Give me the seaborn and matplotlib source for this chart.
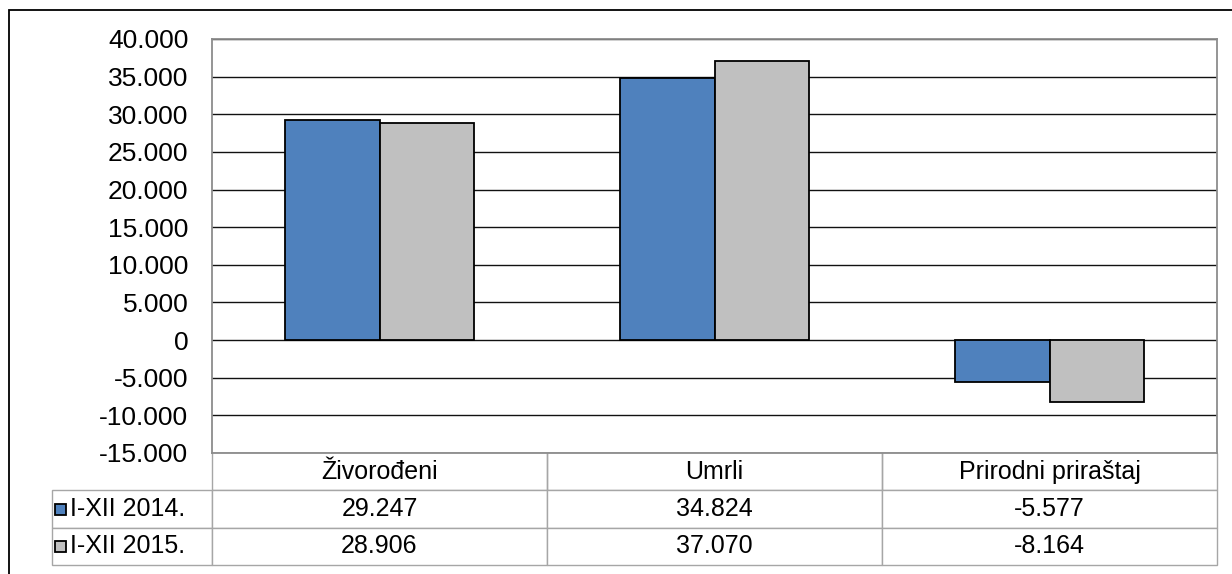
import matplotlib

matplotlib.use("Agg")
import matplotlib.pyplot as plt
from matplotlib.patches import Rectangle
from matplotlib.ticker import FuncFormatter, MultipleLocator
import pandas as pd
import seaborn as sns

# data
kategorije = ["Živorođeni", "Umrli", "Prirodni priraštaj"]
periodi = ["I-XII 2014.", "I-XII 2015."]
vrijednosti_2014 = [29247, 34824, -5577]
vrijednosti_2015 = [28906, 37070, -8164]
boje = ["#4F81BD", "#C0C0C0"]

df = pd.DataFrame({
    "kategorija": kategorije * 2,
    "period": [periodi[0]] * 3 + [periodi[1]] * 3,
    "vrijednost": vrijednosti_2014 + vrijednosti_2015,
})


def fmt_broj(v, pos=None):
    return f"{int(round(v)):,}".replace(",", ".")


sns.set_theme(style="white")
plt.rcParams["font.family"] = ["Liberation Sans", "DejaVu Sans"]

W, H = 1232, 574
fig = plt.figure(figsize=(W / 100, H / 100), dpi=100)
fig.patch.set_facecolor("white")

# plot area in pixels
L, R, T, B = 212, 1217, 39, 453
ax = fig.add_axes([L / W, 1 - B / H, (R - L) / W, (B - T) / H])

sns.barplot(
    data=df, x="kategorija", y="vrijednost", hue="period",
    palette=boje, edgecolor="black", linewidth=1.3, width=0.567,
    saturation=1, legend=False, ax=ax, zorder=3,
)

ax.set_xlim(-0.5, 2.5)
ax.set_ylim(-15000, 40000)
ax.yaxis.set_major_locator(MultipleLocator(5000))
ax.yaxis.set_major_formatter(FuncFormatter(fmt_broj))
ax.grid(axis="y", color="#111111", linewidth=1.0, zorder=0)
ax.set_axisbelow(True)
ax.set_xticks([])
ax.set_xlabel("")
ax.set_ylabel("")
ax.tick_params(axis="y", length=0, pad=17, labelsize=19, labelcolor="black")
for s in ax.spines.values():
    s.set_color("#8c8c8c")
    s.set_linewidth(1.3)

# data table below the plot
lab_l, tab_b = 52, 565
w_plot = R - L
h_plot = B - T
bx = (lab_l - L) / w_plot
bh = (tab_b - B) / h_plot
col_w = [L - lab_l] + [w_plot / 3] * 3

rows = []
for p, vals in zip(periodi, [vrijednosti_2014, vrijednosti_2015]):
    rows.append([p] + [fmt_broj(v) for v in vals])

tab = ax.table(
    cellText=rows,
    colLabels=[""] + kategorije,
    colWidths=col_w,
    bbox=[bx, -bh, 1 - bx, bh],
    cellLoc="center",
)
tab.auto_set_font_size(False)
tab.set_fontsize(18)
for (r, c), cell in tab.get_celld().items():
    cell.set_edgecolor("#a6a6a6")
    cell.set_linewidth(1.0)
    cell.get_text().set_color("black")
    if c == 0:
        cell.get_text().set_horizontalalignment("left")
        cell.PAD = 0.115
    if r == 0 and c == 0:
        cell.visible_edges = ""
    if r == 0 and c > 0:
        cell.visible_edges = "LRB"

# legend keys in table row labels
row_h = bh / 3
key_w = 11 / w_plot
key_h = 11 / h_plot
for i, boja in enumerate(boje):
    yc = -row_h * (1.5 + i)
    ax.add_patch(Rectangle(
        ((55 - L) / w_plot, yc - key_h / 2), key_w, key_h,
        transform=ax.transAxes, facecolor=boja, edgecolor="black",
        linewidth=1.3, clip_on=False, zorder=5,
    ))

# outer chart frame
fig.add_artist(Rectangle(
    (9 / W, -0.1), 1.2, 1.1 - 10 / H, transform=fig.transFigure,
    facecolor="none", edgecolor="black", linewidth=1.3,
))

fig.savefig("out.png", dpi=100, facecolor="white")
